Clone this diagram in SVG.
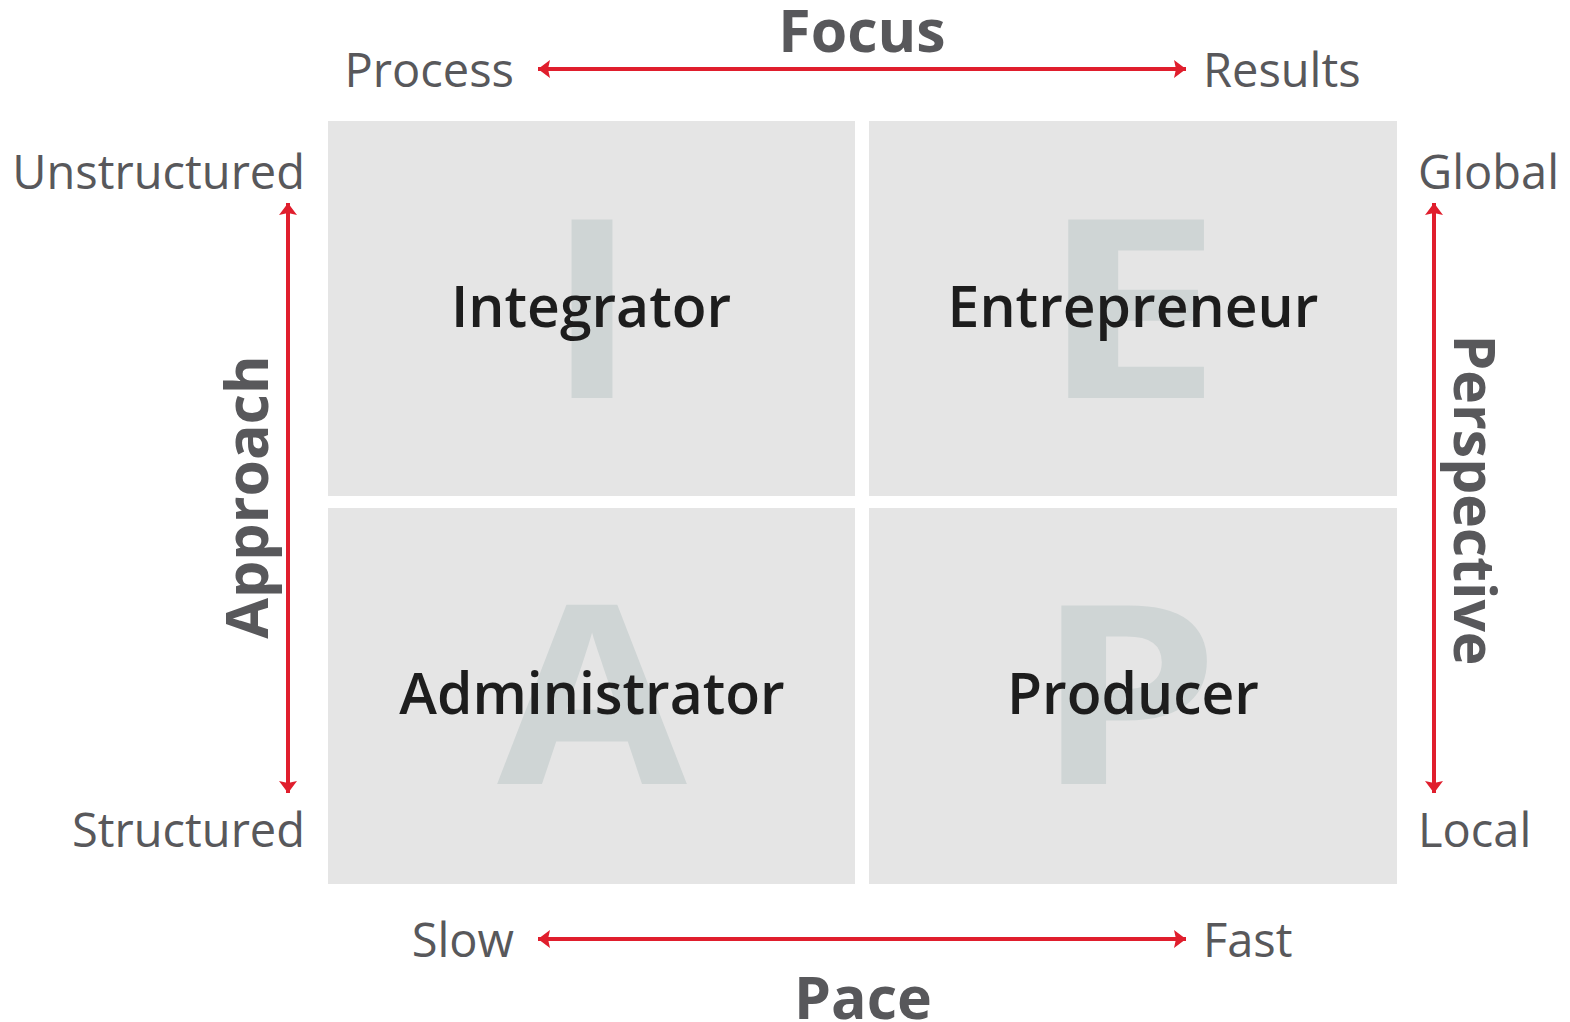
<svg xmlns="http://www.w3.org/2000/svg" width="1570" height="1022" viewBox="0 0 1570 1022">
<style>
.quad{fill:#e5e5e5}
.big{font-family:"Open Sans","Liberation Sans",sans-serif;font-weight:700;font-size:250px;fill:#cfd5d5;text-anchor:middle}
.name{font-family:"Open Sans","Liberation Sans",sans-serif;font-weight:600;font-size:57px;fill:#1d1d1d;text-anchor:middle}
.axis{font-family:"Open Sans","Liberation Sans",sans-serif;font-weight:400;font-size:47px;fill:#58585b}
.title{font-family:"Open Sans","Liberation Sans",sans-serif;font-weight:700;font-size:59px;fill:#58585b;text-anchor:middle}
.arr{stroke:#e01e2d;stroke-width:4;fill:none;marker-start:url(#ah);marker-end:url(#ah)}
</style>
<defs>
<marker id="ah" viewBox="0 0 12 18" refX="12" refY="9" markerWidth="12" markerHeight="18" markerUnits="userSpaceOnUse" orient="auto-start-reverse">
<path d="M0,0 L12,9 L0,18 L2,9 z" fill="#e01e2d"/>
</marker>
</defs>
<rect width="1570" height="1022" fill="#ffffff"/>
<g id="quad-integrator">
<rect class="quad" x="328" y="121" width="527" height="375"/>
<text class="big" transform="translate(592,398) scale(1.08,1)">I</text>
<text class="name" x="591" y="327">Integrator</text>
</g>
<g id="quad-entrepreneur">
<rect class="quad" x="869" y="121" width="528" height="375"/>
<text class="big" transform="translate(1131,398) scale(1.32,1)">E</text>
<text class="name" x="1133" y="327">Entrepreneur</text>
</g>
<g id="quad-administrator">
<rect class="quad" x="328" y="508" width="527" height="376"/>
<text class="big" transform="translate(592,784) scale(1.1,1)">A</text>
<text class="name" x="592" y="714">Administrator</text>
</g>
<g id="quad-producer">
<rect class="quad" x="869" y="508" width="528" height="376"/>
<text class="big" transform="translate(1127.5,784) scale(1.18,1)">P</text>
<text class="name" x="1133" y="714">Producer</text>
</g>
<g id="connectors">
<line class="arr" x1="538" y1="69" x2="1186" y2="69"/>
<line class="arr" x1="538" y1="939" x2="1186" y2="939"/>
<line class="arr" x1="288" y1="203" x2="288" y2="793"/>
<line class="arr" x1="1434" y1="203" x2="1434" y2="793"/>
</g>
<g id="labels">
<text class="title" x="862" y="52">Focus</text>
<text class="title" x="863" y="1019">Pace</text>
<text class="title" transform="translate(268,497) rotate(-90)" x="0" y="0">Approach</text>
<text class="title" style="font-size:57px" transform="translate(1454,500) rotate(90)" x="0" y="0">Perspective</text>
<text class="axis" x="514" y="87" text-anchor="end">Process</text>
<text class="axis" x="1203" y="87">Results</text>
<text class="axis" x="305" y="189" text-anchor="end">Unstructured</text>
<text class="axis" x="305" y="847" text-anchor="end">Structured</text>
<text class="axis" x="1418" y="189">Global</text>
<text class="axis" x="1418" y="847">Local</text>
<text class="axis" x="514" y="957" text-anchor="end">Slow</text>
<text class="axis" x="1203" y="957">Fast</text>
</g>
</svg>
